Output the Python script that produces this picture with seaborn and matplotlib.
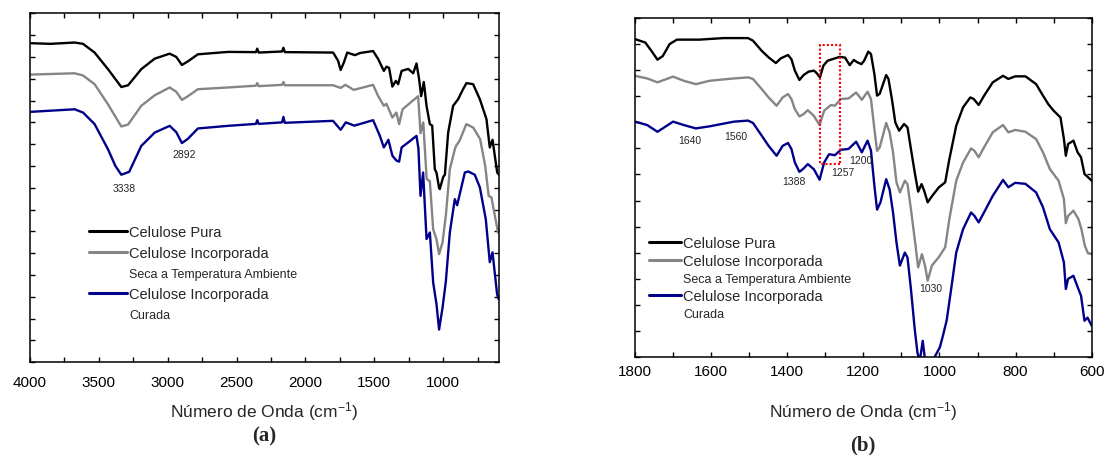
import numpy as np
import pandas as pd
import seaborn as sns
import matplotlib
matplotlib.use("Agg")
import matplotlib.pyplot as plt
from matplotlib.lines import Line2D
from matplotlib.patches import Rectangle
from matplotlib.ticker import MultipleLocator, NullFormatter

# ---------------- DATA ----------------
series_names = ["Celulose Pura", "Celulose Incorporada", "Celulose Incorporada Curada"]
series_colors = ["#000000", "#858585", "#00008B"]

# Panel (a): 4000-600 cm-1
a_pura_wn = [4000, 3850, 3676, 3615, 3531, 3434, 3337, 3288, 3192, 3095, 2986, 2938, 2897, 2853, 2781,
             2563, 2360, 2350, 2340, 2170, 2160, 2150, 1799, 1763, 1745, 1721, 1697, 1641, 1604, 1509,
             1472, 1431, 1412, 1393, 1369, 1344, 1327, 1302, 1254, 1218, 1194, 1175, 1160, 1141, 1121,
             1097, 1080, 1061, 1049, 1030, 1025, 1000, 988, 964, 928, 892, 856, 831, 783, 734, 686,
             662, 642, 608, 596]
a_pura_t = [14.63, 14.6, 14.66, 14.6, 14.2, 13.44, 12.62, 12.7, 13.44, 13.92, 14.15, 14.0, 13.63, 13.8, 14.12,
            14.23, 14.22, 14.38, 14.2, 14.25, 14.42, 14.22, 14.2, 13.82, 13.4, 13.75, 14.2, 14.08, 14.18, 14.27,
            13.9, 13.36, 13.55, 13.5, 12.64, 12.9, 12.75, 13.36, 13.45, 13.25, 13.7, 12.98, 12.2, 12.85, 11.75,
            10.92, 10.85, 8.85, 8.7, 8.0, 7.94, 8.5, 8.6, 10.54, 11.76, 12.06, 12.52, 12.8, 12.75, 12.06, 11.15,
            9.85, 10.2, 8.7, 8.6]

a_seca_wn = [4000, 3676, 3615, 3531, 3434, 3337, 3288, 3192, 3095, 2986, 2938, 2897, 2853, 2781, 2563,
             2360, 2350, 2340, 2170, 2160, 2150, 1799, 1745, 1710, 1650, 1509, 1472, 1431, 1412, 1369,
             1340, 1320, 1295, 1220, 1182, 1165, 1145, 1120, 1097, 1073, 1049, 1030, 1005, 981, 952,
             916, 907, 882, 832, 782, 732, 695, 670, 650, 602]
a_seca_t = [13.19, 13.25, 13.15, 12.75, 11.83, 10.81, 10.9, 11.76, 12.24, 12.6, 12.4, 12.03, 12.2, 12.52, 12.6,
            12.68, 12.8, 12.66, 12.72, 12.85, 12.7, 12.7, 12.58, 12.72, 12.49, 12.72, 12.2, 11.76, 11.85, 11.22,
            11.45, 10.92, 11.6, 12.0, 12.2, 10.5, 11.0, 8.4, 8.3, 6.1, 5.65, 4.96, 5.5, 6.72, 8.85,
            9.76, 9.92, 10.15, 10.92, 10.76, 10.23, 9.0, 7.63, 7.56, 5.95]

a_cur_wn = [4000, 3676, 3615, 3531, 3434, 3380, 3337, 3280, 3192, 3095, 2986, 2938, 2897, 2853, 2781,
            2563, 2360, 2350, 2340, 2170, 2160, 2150, 1800, 1745, 1707, 1645, 1509, 1460, 1431, 1398,
            1369, 1340, 1320, 1302, 1240, 1194, 1180, 1165, 1146, 1121, 1097, 1073, 1049, 1030, 1005,
            981, 952, 916, 899, 843, 819, 771, 734, 691, 662, 642, 609, 598]
a_cur_t = [11.48, 11.6, 11.45, 10.92, 9.77, 9.0, 8.6, 8.73, 9.92, 10.53, 10.84, 10.55, 10.05, 10.25, 10.72,
           10.84, 10.93, 11.1, 10.93, 11.0, 11.25, 10.98, 11.07, 10.66, 11.0, 10.85, 11.1, 10.38, 9.85, 10.2,
           9.47, 9.25, 9.2, 9.85, 10.15, 10.38, 9.8, 7.63, 8.7, 5.65, 5.95, 3.66, 2.67, 1.5, 2.5,
           3.7, 5.95, 7.48, 7.2, 8.7, 8.75, 8.6, 8.02, 6.56, 4.59, 5.04, 3.13, 2.9]

a_peak_labels = ["3338", "2892"]
a_peak_wn = [3313, 2877]
a_peak_y = [7.97, 9.54]

# Panel (b): 1800-600 cm-1
b_pura_wn = [1800, 1773, 1754, 1741, 1727, 1709, 1690, 1631, 1567, 1503, 1490, 1467, 1449, 1430, 1417,
             1398, 1389, 1380, 1368, 1357, 1344, 1330, 1323, 1314, 1305, 1294, 1275, 1262, 1248, 1236,
             1225, 1216, 1205, 1198, 1187, 1180, 1171, 1164, 1157, 1140, 1134, 1125, 1116, 1106, 1093,
             1084, 1075, 1065, 1056, 1047, 1040, 1031, 1020, 1002, 985, 974, 956, 938, 919, 910, 897,
             883, 860, 833, 819, 801, 774, 746, 728, 714, 700, 682, 673, 668, 662, 648, 637, 628, 619,
             610, 600]
b_pura_t = [12.2, 12.07, 11.69, 11.41, 11.55, 12.01, 12.18, 12.18, 12.24, 12.24, 12.14, 11.75, 11.5, 11.28, 11.46,
            11.59, 11.43, 10.99, 10.63, 10.82, 10.95, 10.99, 10.9, 10.73, 11.18, 11.37, 11.46, 11.52, 11.49, 11.2,
            11.4, 11.31, 11.24, 11.37, 11.72, 11.63, 10.86, 10.03, 10.1, 10.82, 10.67, 9.9, 9.0, 8.68, 8.94,
            8.81, 7.98, 7.08, 6.34, 6.63, 6.37, 5.93, 6.16, 6.5, 6.7, 7.59, 8.87, 9.58, 9.96, 9.9, 9.67,
            10.02, 10.54, 10.79, 10.67, 10.77, 10.77, 10.47, 10.03, 9.7, 9.45, 9.19, 8.36, 7.72, 8.17, 8.3, 7.85,
            7.66, 7.02, 6.9, 6.76]

b_seca_wn = [1800, 1768, 1741, 1700, 1672, 1640, 1604, 1540, 1503, 1490, 1467, 1449, 1428, 1412, 1398,
             1389, 1380, 1368, 1357, 1346, 1330, 1315, 1303, 1285, 1275, 1259, 1239, 1219, 1204, 1189,
             1180, 1171, 1164, 1157, 1140, 1131, 1122, 1113, 1104, 1091, 1084, 1075, 1065, 1056, 1046,
             1038, 1031, 1020, 1002, 985, 974, 956, 938, 917, 908, 897, 883, 860, 833, 819, 801, 774,
             746, 728, 710, 687, 673, 668, 662, 648, 635, 627, 618, 610, 600]
b_seca_t = [10.79, 10.69, 10.54, 10.76, 10.6, 10.47, 10.6, 10.69, 10.73, 10.67, 10.28, 9.96, 9.64, 9.96, 10.09,
            9.9, 9.51, 9.23, 9.32, 9.47, 9.25, 8.9, 9.45, 9.67, 9.64, 9.9, 9.92, 10.15, 9.87, 10.18,
            9.9, 8.75, 7.91, 8.04, 8.98, 8.62, 7.85, 6.7, 6.31, 6.76, 6.63, 5.67, 4.52, 3.43, 3.94,
            3.5, 2.92, 3.5, 3.82, 4.2, 5.29, 6.76, 7.46, 8.0, 7.91, 7.66, 8.04, 8.62, 8.9, 8.62, 8.71, 8.64,
            8.36, 7.85, 7.21, 6.76, 6.06, 5.13, 5.41, 5.61, 5.29, 4.9, 4.26, 3.98, 3.94]

b_cur_wn = [1800, 1768, 1741, 1700, 1672, 1640, 1604, 1540, 1503, 1490, 1467, 1449, 1428, 1412, 1398,
            1389, 1380, 1368, 1357, 1346, 1330, 1315, 1303, 1290, 1275, 1259, 1239, 1219, 1204, 1189,
            1180, 1171, 1164, 1155, 1140, 1131, 1122, 1113, 1104, 1091, 1084, 1075, 1065, 1058, 1052,
            1044, 1034, 1016, 999, 991, 981, 968, 956, 938, 917, 908, 897, 883, 860, 833, 819, 801,
            774, 746, 728, 710, 687, 673, 668, 662, 648, 635, 628, 619, 611, 600]
b_cur_t = [9.03, 8.9, 8.64, 9.03, 8.9, 8.77, 8.85, 9.03, 9.07, 8.98, 8.49, 8.1, 7.72, 8.1, 8.21,
           7.98, 7.46, 7.1, 7.23, 7.4, 7.2, 6.8, 7.46, 7.78, 7.74, 7.95, 7.98, 8.26, 7.85, 8.3,
           7.92, 6.57, 5.65, 5.93, 6.82, 6.43, 5.54, 4.39, 3.5, 4.0, 3.81, 2.6, 1.06, 0.17, -0.2,
           0.61, -0.6, -0.1, 0.36, 0.8, 1.4, 2.73, 4.0, 4.9, 5.54, 5.41, 5.16, 5.54, 6.18, 6.79, 6.51, 6.68,
           6.64, 6.31, 5.74, 4.9, 4.39, 3.62, 2.6, 2.99, 3.11, 2.6, 2.34, 1.38, 1.5, 1.19]

b_peak_labels = ["1640", "1560", "1388", "1257", "1200", "1030"]
b_peak_wn = [1657, 1535, 1383, 1255, 1207, 1024]
b_peak_y = [8.34, 8.49, 6.76, 7.08, 7.57, 2.62]

# highlighted region (wavenumber from, to, transmittance from, to)
b_box = [1314, 1261, 7.41, 11.98]

legend_labels = ["Celulose Pura", "Celulose Incorporada", "Seca a Temperatura Ambiente",
                 "Celulose Incorporada", "Curada"]
xlabel_text = "Número de Onda (cm$^{\\mathregular{-1}}$)"

# ---------------- STYLE ----------------
sns.set_theme(style="ticks")
plt.rcParams["font.family"] = ["Liberation Sans", "DejaVu Sans"]
plt.rcParams["mathtext.default"] = "regular"
plt.rcParams["axes.linewidth"] = 1.1

fig = plt.figure(figsize=(11.05, 4.56), dpi=100)
W, H = 1105, 456
axa = fig.add_axes([30 / W, 1 - 363.3 / H, 469 / W, 349 / H])
axb = fig.add_axes([635 / W, 1 - 357.7 / H, 456.7 / W, 338.4 / H])


def build(wns, ts):
    frames = []
    for name, wn, t in zip(series_names, wns, ts):
        frames.append(pd.DataFrame({"wn": wn, "T": t, "serie": name}))
    return pd.concat(frames, ignore_index=True)


df_a = build([a_pura_wn, a_seca_wn, a_cur_wn], [a_pura_t, a_seca_t, a_cur_t])
df_b = build([b_pura_wn, b_seca_wn, b_cur_wn], [b_pura_t, b_seca_t, b_cur_t])
pal = dict(zip(series_names, series_colors))

for ax, df in [(axa, df_a), (axb, df_b)]:
    sns.lineplot(data=df, x="wn", y="T", hue="serie", palette=pal, estimator=None,
                 sort=False, legend=False, lw=1.7, ax=ax)
    ax.tick_params(which="both", direction="in", top=True, right=True, length=3.5,
                   width=1.0, labelsize=11, colors="black")
    ax.yaxis.set_major_formatter(NullFormatter())
    ax.set_ylabel("")
    for s in ax.spines.values():
        s.set_visible(True)
        s.set_color("black")

# panel a axes
axa.set_xlim(4000, 595)
axa.set_ylim(0, 16)
axa.xaxis.set_major_locator(MultipleLocator(500))
axa.xaxis.set_minor_locator(MultipleLocator(250))
axa.yaxis.set_major_locator(MultipleLocator(1))
axa.tick_params(axis="x", which="both", pad=9.5)

# panel b axes
axb.set_xlim(1800, 600)
axb.set_ylim(0, 13)
axb.xaxis.set_major_locator(MultipleLocator(200))
axb.xaxis.set_minor_locator(MultipleLocator(100))
axb.yaxis.set_major_locator(MultipleLocator(1))
axb.tick_params(axis="x", which="both", pad=5)

for ax, ycoord in [(axa, -0.105), (axb, -0.125)]:
    ax.set_xlabel(xlabel_text, fontsize=12.5)
    ax.xaxis.set_label_coords(0.5, ycoord)

# peak labels
for lab, x, y in zip(a_peak_labels, a_peak_wn, a_peak_y):
    axa.text(x, y, lab, fontsize=7.5, ha="center", va="center")
for lab, x, y in zip(b_peak_labels, b_peak_wn, b_peak_y):
    axb.text(x, y, lab, fontsize=7.5, ha="center", va="center")

# highlighted box
axb.add_patch(Rectangle((b_box[1], b_box[2]), b_box[0] - b_box[1], b_box[3] - b_box[2],
                        fill=False, edgecolor="red", linestyle=(0, (1, 1)), lw=1.5, zorder=5))


# legends
def make_legend(ax, anchor, hl, spacing):
    handles = [Line2D([], [], color=series_colors[0], lw=2.2),
               Line2D([], [], color=series_colors[1], lw=2.2),
               Line2D([], [], color="none"),
               Line2D([], [], color=series_colors[2], lw=2.2),
               Line2D([], [], color="none")]
    leg = ax.legend(handles, legend_labels, loc="upper left", bbox_to_anchor=anchor,
                    frameon=False, borderpad=0, borderaxespad=0, fontsize=10.5,
                    handlelength=hl, handletextpad=0.15, labelspacing=spacing)
    for i in (2, 4):
        leg.get_texts()[i].set_fontsize(9)
    return leg


make_legend(axa, (0.126, 0.392), 2.6, 0.47)
make_legend(axb, (0.031, 0.356), 2.2, 0.27)

fig.text(264.5 / W, 1 - 436 / H, "(a)", fontsize=15, fontweight="bold",
         family=["Liberation Serif", "DejaVu Serif"], ha="center", va="center")
fig.text(863 / W, 1 - 445 / H, "(b)", fontsize=15, fontweight="bold",
         family=["Liberation Serif", "DejaVu Serif"], ha="center", va="center")

fig.savefig("out.png", dpi=100, facecolor="white")
